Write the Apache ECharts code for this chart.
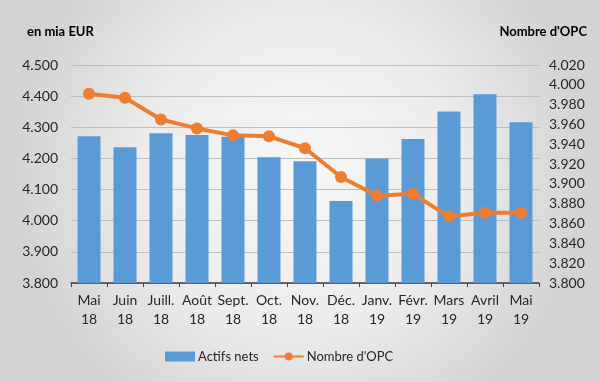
<!DOCTYPE html>
<html><head><meta charset="utf-8">
<script src="https://cdn.jsdelivr.net/npm/echarts@6/dist/echarts.min.js"></script>
<style>html,body{margin:0;padding:0;}#c{width:600px;height:382px;}</style>
</head><body><div id="c"></div>
<script>
const categories = ['Mai\n18','Juin\n18','Juill.\n18','Août\n18','Sept.\n18','Oct.\n18','Nov.\n18','Déc.\n18','Janv.\n19','Févr.\n19','Mars\n19','Avril\n19','Mai\n19'];
const actifsNets = [4.271, 4.236, 4.281, 4.275, 4.270, 4.204, 4.191, 4.063, 4.200, 4.262, 4.351, 4.406, 4.316];
const nombreOPC = [3.991, 3.987, 3.965, 3.956, 3.949, 3.948, 3.936, 3.907, 3.888, 3.890, 3.867, 3.871, 3.871];
const leftTitle = 'en mia EUR';
const rightTitle = "Nombre d'OPC";

const font = 'Lato, "Open Sans", sans-serif';
const chart = echarts.init(document.getElementById('c'));
chart.setOption({
  animation: false,
  backgroundColor: {
    type: 'radial', x: 0.5, y: 0.45, r: 0.75,
    colorStops: [{offset: 0, color: '#f7f7f7'}, {offset: 0.55, color: '#ececec'}, {offset: 1, color: '#d3d3d3'}]
  },
  textStyle: {fontFamily: font},
  title: [
    {text: leftTitle, left: 22, top: 20, textStyle: {fontSize: 13, fontWeight: 'bold', color: '#000', fontFamily: font}},
    {text: rightTitle, right: 8, top: 20, textStyle: {fontSize: 13, fontWeight: 'bold', color: '#000', fontFamily: font}}
  ],
  legend: {
    bottom: 14, left: 160, itemGap: 14, itemWidth: 30, itemHeight: 10,
    textStyle: {fontSize: 13, color: '#262626', fontFamily: font, padding: [0, 0, 0, -2]},
    data: [
      {name: 'Actifs nets', icon: 'rect'},
      {name: "Nombre d'OPC"}
    ]
  },
  grid: {left: 71, right: 61, top: 65, bottom: 99},
  xAxis: {
    type: 'category', data: categories,
    axisLine: {lineStyle: {color: '#404040', width: 1.5}},
    axisTick: {show: true, length: 4, lineStyle: {color: '#404040'}},
    axisLabel: {fontSize: 14, color: '#262626', lineHeight: 19, margin: 8, interval: 0, fontFamily: font}
  },
  yAxis: [
    {type: 'value', min: 3.8, max: 4.5, interval: 0.1,
     axisLine: {show: false}, axisTick: {show: false},
     splitLine: {lineStyle: {color: '#bdbdbd', width: 1}},
     axisLabel: {fontSize: 14, color: '#262626', margin: 13, formatter: v => v.toFixed(3), fontFamily: font}},
    {type: 'value', min: 3.8, max: 4.02, interval: 0.02,
     axisLine: {show: false}, axisTick: {show: false}, splitLine: {show: false},
     axisLabel: {fontSize: 14, color: '#262626', margin: 10, formatter: v => v.toFixed(3), fontFamily: font}}
  ],
  series: [
    {name: 'Actifs nets', type: 'bar', data: actifsNets, yAxisIndex: 0, barWidth: 23,
     itemStyle: {color: '#5B9BD5'}},
    {name: "Nombre d'OPC", type: 'line', data: nombreOPC, yAxisIndex: 1,
     symbol: 'circle', symbolSize: 12,
     lineStyle: {color: '#ED7D31', width: 4},
     itemStyle: {color: '#ED7D31'}}
  ]
});
</script></body></html>
